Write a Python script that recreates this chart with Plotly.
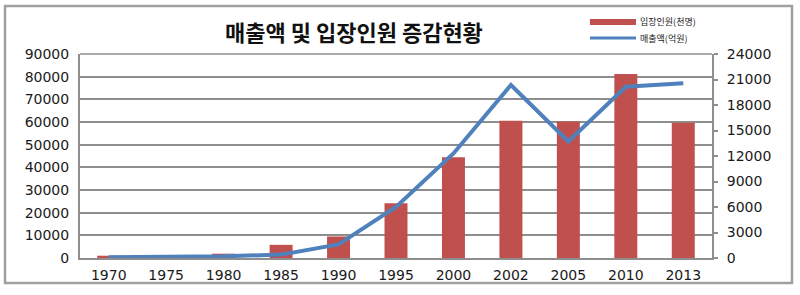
import plotly.graph_objects as go

years = ['1970', '1975', '1980', '1985', '1990', '1995', '2000', '2002', '2005', '2010', '2013']
attendance = [1000, 900, 1900, 5800, 9500, 24100, 44400, 60500, 60200, 81200, 59700]  # 입장인원(천명)
sales = [100, 100, 200, 400, 1600, 6000, 12300, 20350, 13700, 20150, 20550]  # 매출액(억원)

left_ticks = list(range(0, 90001, 10000))
right_ticks = list(range(0, 24001, 3000))

title_text = '매출액 및 입장인원 증감현황'
legend_bar = '입장인원(천명)'
legend_line = '매출액(억원)'

BAR = '#C0504D'
LINE = '#4F81BD'
GRID = '#8E8E8E'

W, H = 800, 295
L, R, T, B = 80, 88, 54, 37
pw, ph = W - L - R, H - T - B

def px(x):
    return (x - L) / pw

def py(y):
    return (H - B - y) / ph

fig = go.Figure()
fig.add_trace(go.Bar(x=years, y=attendance, marker=dict(color=BAR, line=dict(width=0)),
                     name=legend_bar, showlegend=False))
fig.add_trace(go.Scatter(x=years, y=sales, yaxis='y2', mode='lines',
                         line=dict(color=LINE, width=4), name=legend_line, showlegend=False))

tickfont = dict(family='DejaVu Sans', size=14, color='#1a1a1a')

fig.update_layout(
    width=W, height=H,
    margin=dict(l=L, r=R, t=T, b=B),
    paper_bgcolor='white', plot_bgcolor='white',
    bargap=0.6,
    xaxis=dict(type='category', tickfont=tickfont, showgrid=False,
               showline=True, linecolor=GRID, linewidth=2, ticks='', ticklabelstandoff=3),
    yaxis=dict(range=[0, 90000], tickvals=left_ticks, ticktext=[str(v) for v in left_ticks],
               tickfont=tickfont, showgrid=True, gridcolor=GRID, gridwidth=1.5,
               showline=True, linecolor=GRID, linewidth=2, ticks='', zeroline=False,
               ticklabelstandoff=6),
    yaxis2=dict(range=[0, 24000], tickvals=right_ticks, ticktext=[str(v) for v in right_ticks],
                overlaying='y', side='right', tickfont=tickfont, showgrid=False,
                showline=True, linecolor=GRID, linewidth=2, ticks='outside', ticklen=4,
                tickcolor=GRID, tickwidth=1.5, zeroline=False, ticklabelstandoff=6),
    shapes=[
        dict(type='line', xref='paper', yref='paper', x0=0, x1=1, y0=1, y1=1,
             line=dict(color=GRID, width=1.5)),
        dict(type='rect', xref='paper', yref='paper', x0=px(5), x1=px(792), y0=py(283), y1=py(6),
             line=dict(color='#A0A0A0', width=2.5), layer='below'),
        dict(type='rect', xref='paper', yref='paper', x0=px(590), x1=px(636), y0=py(25), y1=py(19),
             fillcolor=BAR, line=dict(width=0)),
        dict(type='line', xref='paper', yref='paper', x0=px(590), x1=px(636), y0=py(38), y1=py(38),
             line=dict(color=LINE, width=3)),
    ],
    annotations=[
        dict(text='<b>' + title_text + '</b>', xref='paper', yref='paper', x=px(354), y=py(31),
             showarrow=False, font=dict(family='Noto Sans CJK KR', size=22, color='#111'),
             xanchor='center', yanchor='middle'),
        dict(text=legend_bar, xref='paper', yref='paper', x=px(638), y=py(22),
             showarrow=False, font=dict(family='Noto Sans CJK KR', size=9, color='#222'),
             xanchor='left', yanchor='middle'),
        dict(text=legend_line, xref='paper', yref='paper', x=px(638), y=py(38),
             showarrow=False, font=dict(family='Noto Sans CJK KR', size=9, color='#222'),
             xanchor='left', yanchor='middle'),
    ],
)

fig.write_html('out.html', config={'responsive': False, 'displayModeBar': False},
               post_script="document.body.style.margin='0';document.body.style.overflow='hidden';")
